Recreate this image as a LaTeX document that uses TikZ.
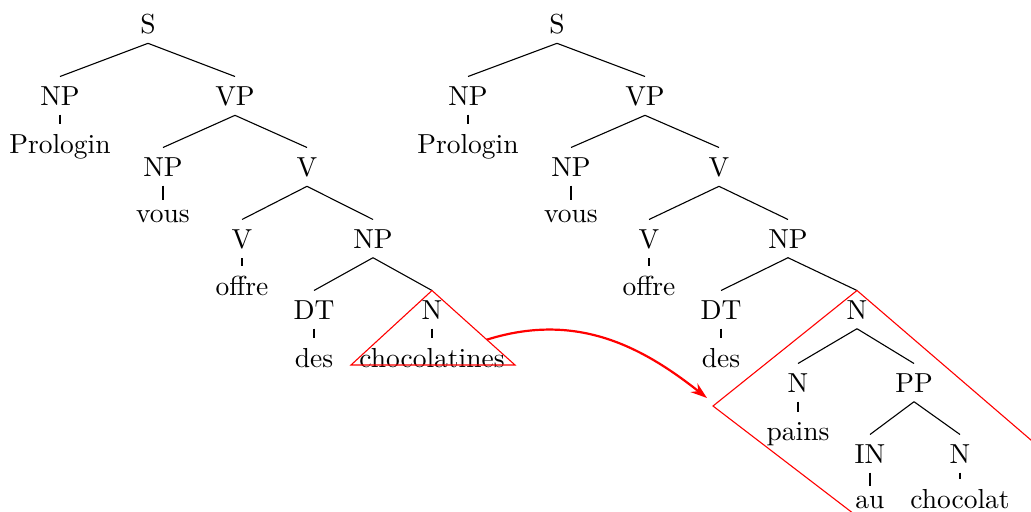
\documentclass[tikz,border=0pt]{standalone}
\usetikzlibrary{arrows.meta,calc}
\begin{document}
\begin{tikzpicture}[x=0.36364pt,y=-0.36364pt,
  cat/.style={anchor=base},
  edge/.style={draw=black,line width=0.4pt},
  hl/.style={draw=red,line width=0.4pt},
  move/.style={draw=red,line width=0.8pt,-{Stealth[length=6pt,width=4pt]}}]
\useasboundingbox (0,0) rectangle (1031,511);

% ---------- first tree ----------
\node[cat] (aS)    at (148,33)  {S};
\node[cat] (aNPa)  at (60,105)  {NP};
\node[cat] (aVP)   at (235,105) {VP};
\node[cat] (aProl) at (60,153)  {Prologin};
\node[cat] (aNPb)  at (163,176) {NP};
\node[cat] (aVa)   at (307,176) {V};
\node[cat] (avous) at (163,222) {vous};
\node[cat] (aVb)   at (242,248) {V};
\node[cat] (aNPc)  at (373,248) {NP};
\node[cat] (aoffre) at (242,295) {offre};
\node[cat] (aDT)   at (314,319) {DT};
\node[cat] (aN)    at (432,319) {N};
\node[cat] (ades)  at (314,367) {des};
\node[cat] (achoc) at (432,367) {chocolatines};

\foreach \p/\c in {aS/aNPa,aS/aVP,aNPa/aProl,aVP/aNPb,aVP/aVa,aNPb/avous,
                   aVa/aVb,aVa/aNPc,aVb/aoffre,aNPc/aDT,aNPc/aN,aDT/ades,aN/achoc}
  \path[edge] (\p.south) -- (\c.north);

% collapsed subtree
\coordinate (triL) at (351,365);
\coordinate (triR) at (515,365);
\path[hl] (aN.north) -- (triL) -- (triR) -- cycle;

% ---------- second tree ----------
\node[cat] (bS)    at (557,33)  {S};
\node[cat] (bNPa)  at (468,105) {NP};
\node[cat] (bVP)   at (645,105) {VP};
\node[cat] (bProl) at (468,153) {Prologin};
\node[cat] (bNPb)  at (571,176) {NP};
\node[cat] (bVa)   at (719,176) {V};
\node[cat] (bvous) at (571,222) {vous};
\node[cat] (bVb)   at (649,248) {V};
\node[cat] (bNPc)  at (788,248) {NP};
\node[cat] (boffre) at (649,295) {offre};
\node[cat] (bDT)   at (721,319) {DT};
\node[cat] (bN)    at (857,319) {N};
\node[cat] (bdes)  at (721,367) {des};
\node[cat] (bNc)   at (798,392) {N};
\node[cat] (bPP)   at (914,392) {PP};
\node[cat] (bpains) at (798,440) {pains};
\node[cat] (bIN)   at (870,463) {IN};
\node[cat] (bNd)   at (960,463) {N};
\node[cat] (bau)   at (870,508) {au};
\node[cat] (bchoc) at (960,508) {chocolat};

\foreach \p/\c in {bS/bNPa,bS/bVP,bNPa/bProl,bVP/bNPb,bVP/bVa,bNPb/bvous,
                   bVa/bVb,bVa/bNPc,bVb/boffre,bNPc/bDT,bNPc/bN,bDT/bdes,
                   bN/bNc,bN/bPP,bNc/bpains,bPP/bIN,bPP/bNd,bIN/bau,bNd/bchoc}
  \path[edge] (\p.south) -- (\c.north);

% expanded subtree outline
\coordinate (boxL) at (713,406);
\coordinate (boxB) at (918,563);
\coordinate (boxR) at (1117,514);
\begin{scope}
  \clip (0,0) rectangle (1031,511);
  \path[hl] (boxB) -- (boxL) -- (bN.north) -- (boxR);
\end{scope}

% expansion arrow
\coordinate (arrS) at ($(aN.north)!0.66!(triR)$);
\coordinate (arrE) at (707,398);
\draw[move] (arrS) .. controls (575,312) and (640,345) .. (arrE);
\end{tikzpicture}
\end{document}
